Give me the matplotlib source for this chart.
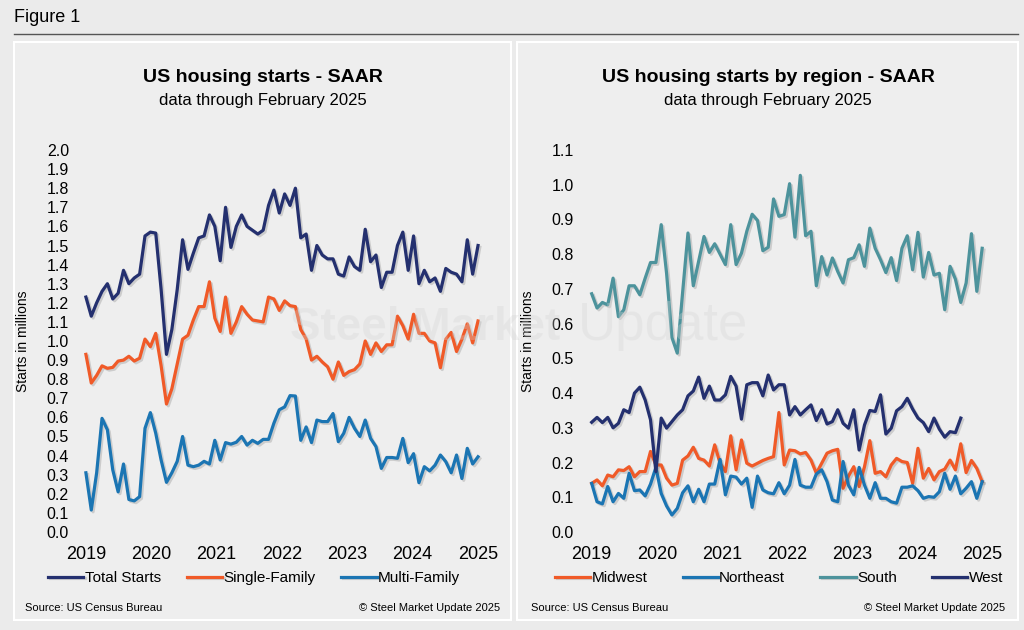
import numpy as np
import matplotlib
matplotlib.use('Agg')
import matplotlib.pyplot as plt
import matplotlib.patheffects as pe
from matplotlib.patches import Rectangle
from matplotlib.lines import Line2D

plt.rcParams['font.family'] = ['Liberation Sans', 'DejaVu Sans']

# monthly data, Jan 2019 - Feb 2025 (millions, SAAR)
years = ['2019', '2020', '2021', '2022', '2023', '2024', '2025']

total_starts = [1.23, 1.13, 1.20, 1.26, 1.30, 1.22, 1.25, 1.37, 1.30, 1.33, 1.35, 1.55,
                1.57, 1.565, 1.27, 0.93, 1.06, 1.27, 1.53, 1.375, 1.46, 1.54, 1.55, 1.66,
                1.60, 1.42, 1.70, 1.49, 1.60, 1.66, 1.60, 1.58, 1.56, 1.58, 1.71, 1.79,
                1.67, 1.77, 1.71, 1.80, 1.54, 1.56, 1.37, 1.50, 1.45, 1.43, 1.43, 1.35,
                1.34, 1.44, 1.39, 1.37, 1.585, 1.415, 1.45, 1.28, 1.36, 1.36, 1.50, 1.57,
                1.37, 1.55, 1.30, 1.37, 1.31, 1.33, 1.26, 1.38, 1.36, 1.35, 1.31, 1.53,
                1.35, 1.50]

single_family = [0.93, 0.78, 0.82, 0.87, 0.857, 0.862, 0.895, 0.90, 0.92, 0.895, 0.91, 1.01,
                 0.97, 1.04, 0.87, 0.67, 0.75, 0.88, 1.01, 1.03, 1.11, 1.18, 1.18, 1.31,
                 1.12, 1.05, 1.23, 1.04, 1.10, 1.18, 1.14, 1.11, 1.105, 1.10, 1.23, 1.22,
                 1.16, 1.21, 1.185, 1.18, 1.06, 1.01, 0.90, 0.92, 0.89, 0.865, 0.80, 0.89,
                 0.82, 0.84, 0.85, 0.88, 1.00, 0.93, 0.99, 0.945, 0.98, 0.98, 1.13, 1.08,
                 1.01, 1.14, 1.04, 1.04, 1.00, 0.99, 0.86, 1.01, 1.045, 0.945, 1.01, 1.09,
                 0.99, 1.105]

multi_family = [0.31, 0.115, 0.31, 0.595, 0.535, 0.325, 0.21, 0.356, 0.17, 0.163, 0.185, 0.543,
                0.625, 0.517, 0.377, 0.26, 0.31, 0.37, 0.50, 0.35, 0.342, 0.35, 0.37, 0.356,
                0.48, 0.377, 0.468, 0.46, 0.47, 0.50, 0.455, 0.48, 0.464, 0.485, 0.485, 0.57,
                0.64, 0.655, 0.714, 0.712, 0.48, 0.55, 0.468, 0.586, 0.578, 0.578, 0.62, 0.473,
                0.517, 0.60, 0.543, 0.50, 0.586, 0.49, 0.447, 0.333, 0.39, 0.39, 0.386, 0.49,
                0.363, 0.41, 0.258, 0.342, 0.32, 0.35, 0.403, 0.368, 0.31, 0.403, 0.28, 0.438,
                0.356, 0.394]

midwest = [0.14, 0.15, 0.133, 0.164, 0.159, 0.179, 0.177, 0.188, 0.159, 0.174, 0.174, 0.232,
           0.193, 0.193, 0.155, 0.135, 0.14, 0.207, 0.219, 0.244, 0.212, 0.207, 0.19, 0.251,
           0.198, 0.174, 0.277, 0.179, 0.265, 0.198, 0.19, 0.198, 0.206, 0.212, 0.217, 0.344,
           0.193, 0.236, 0.234, 0.225, 0.229, 0.207, 0.169, 0.198, 0.227, 0.234, 0.238, 0.126,
           0.161, 0.188, 0.131, 0.188, 0.263, 0.169, 0.174, 0.159, 0.193, 0.212, 0.203, 0.20,
           0.14, 0.241, 0.155, 0.183, 0.15, 0.174, 0.181, 0.207, 0.179, 0.254, 0.171, 0.206,
           0.183, 0.145]

northeast = [0.14, 0.087, 0.081, 0.131, 0.087, 0.111, 0.097, 0.169, 0.119, 0.121, 0.104, 0.138,
             0.186, 0.111, 0.075, 0.049, 0.068, 0.113, 0.133, 0.087, 0.123, 0.087, 0.138, 0.138,
             0.209, 0.107, 0.161, 0.158, 0.138, 0.155, 0.071, 0.161, 0.121, 0.113, 0.11, 0.142,
             0.11, 0.135, 0.209, 0.135, 0.129, 0.129, 0.167, 0.179, 0.145, 0.092, 0.087, 0.203,
             0.135, 0.107, 0.186, 0.135, 0.097, 0.142, 0.097, 0.097, 0.087, 0.083, 0.129, 0.129,
             0.133, 0.119, 0.097, 0.102, 0.10, 0.116, 0.169, 0.123, 0.161, 0.11, 0.126, 0.145,
             0.097, 0.145]

south = [0.686, 0.645, 0.661, 0.654, 0.731, 0.62, 0.64, 0.709, 0.709, 0.683, 0.731, 0.776,
         0.776, 0.885, 0.745, 0.56, 0.515, 0.69, 0.861, 0.709, 0.78, 0.851, 0.805, 0.83,
         0.80, 0.77, 0.885, 0.77, 0.803, 0.866, 0.915, 0.897, 0.81, 0.82, 0.959, 0.909,
         0.914, 1.003, 0.849, 1.027, 0.853, 0.866, 0.709, 0.793, 0.74, 0.789, 0.75, 0.717,
         0.784, 0.79, 0.827, 0.765, 0.875, 0.817, 0.784, 0.747, 0.79, 0.724, 0.817, 0.853,
         0.755, 0.863, 0.734, 0.805, 0.74, 0.745, 0.64, 0.765, 0.728, 0.661, 0.717, 0.859,
         0.693, 0.817]

# West ends at Oct 2024
west = [0.316, 0.33, 0.315, 0.33, 0.30, 0.313, 0.352, 0.344, 0.40, 0.417, 0.38, 0.323,
        0.174, 0.328, 0.299, 0.318, 0.337, 0.352, 0.392, 0.406, 0.446, 0.385, 0.42, 0.38,
        0.38, 0.395, 0.448, 0.42, 0.325, 0.424, 0.43, 0.43, 0.392, 0.452, 0.409, 0.424,
        0.424, 0.337, 0.361, 0.337, 0.352, 0.366, 0.321, 0.352, 0.311, 0.318, 0.352, 0.313,
        0.299, 0.352, 0.236, 0.308, 0.35, 0.347, 0.395, 0.282, 0.299, 0.349, 0.361, 0.385,
        0.354, 0.328, 0.315, 0.289, 0.328, 0.296, 0.273, 0.289, 0.286, 0.328]

navy = '#24306f'
orange = '#f05a28'
blue = '#1b75b3'
teal = '#4d939c'

W, H = 1024, 630
fig = plt.figure(figsize=(W / 100, H / 100), dpi=100)
fig.patch.set_facecolor('#ebebeb')


def fx(px):
    return px / W


def fy(py):
    return 1 - py / H


# header
fig.text(fx(14), fy(18), 'Figure 1', fontsize=13, va='center', ha='left')
fig.add_artist(Line2D([fx(14), fx(1018)], [fy(34), fy(34)], color='#555555', lw=1))

# panels
for x0, x1 in [(14, 511), (517, 1018)]:
    fig.add_artist(Rectangle((fx(x0), fy(620)), fx(x1 - x0), (620 - 42) / H,
                             facecolor='#eeeeee', edgecolor='white', lw=1.5, zorder=-5))

shadow = [pe.SimpleLineShadow(offset=(1.3, -1.3), alpha=0.22, shadow_color='#555555'),
          pe.Normal()]

x = np.arange(len(total_starts))
tick_pos = np.linspace(0, 73, 7)


def setup(ax, ymax, step, fmt):
    ax.set_facecolor('none')
    for s in ax.spines.values():
        s.set_visible(False)
    ax.set_ylim(0, ymax)
    ax.set_yticks(np.arange(0, ymax + 0.001, step))
    ax.set_yticklabels([fmt % v for v in np.arange(0, ymax + 0.001, step)])
    ax.set_xticks(tick_pos)
    ax.set_xticklabels(years)
    ax.tick_params(axis='y', length=0, labelsize=11.5, pad=8)
    ax.tick_params(axis='x', length=0, labelsize=13, pad=10)
    ax.set_ylabel('Starts in millions', fontsize=10, labelpad=10)


# left chart
ax1 = fig.add_axes([fx(80), fy(532), fx(492 - 80), (532 - 150) / H])
setup(ax1, 2.0, 0.1, '%.1f')
ax1.set_xlim(-1.1, 75.6)
l1, = ax1.plot(x, total_starts, color=navy, lw=2.3, label='Total Starts', path_effects=shadow, clip_on=False)
l2, = ax1.plot(x, single_family, color=orange, lw=2.3, label='Single-Family', path_effects=shadow, clip_on=False)
l3, = ax1.plot(x, multi_family, color=blue, lw=2.3, label='Multi-Family', path_effects=shadow, clip_on=False)
ax1.yaxis.set_label_coords(-(80 - 30) / 412, 0.5)

fig.text(fx(263), fy(77), 'US housing starts - SAAR', fontsize=14, fontweight='bold', ha='center', va='center')
fig.text(fx(263), fy(100), 'data through February 2025', fontsize=12, ha='center', va='center')
fig.legend(handles=[l1, l2, l3], loc='center', bbox_to_anchor=(fx(254), fy(578)), ncol=3,
           frameon=False, fontsize=11, handlelength=2.3, handletextpad=0.1, columnspacing=1.7)
fig.text(fx(25), fy(608), 'Source: US Census Bureau', fontsize=8, va='center')
fig.text(fx(500), fy(608), '\u00a9 Steel Market Update 2025', fontsize=8, va='center', ha='right')

# right chart
ax2 = fig.add_axes([fx(585), fy(532), fx(995 - 585), (532 - 150) / H])
setup(ax2, 1.1, 0.1, '%.1f')
ax2.set_xlim(-1.25, 75.4)
r1, = ax2.plot(x, midwest, color=orange, lw=2.3, label='Midwest', path_effects=shadow, clip_on=False)
r2, = ax2.plot(x, northeast, color=blue, lw=2.3, label='Northeast', path_effects=shadow, clip_on=False)
r3, = ax2.plot(x, south, color=teal, lw=2.3, label='South', path_effects=shadow, clip_on=False)
r4, = ax2.plot(np.arange(len(west)), west, color=navy, lw=2.3, label='West', path_effects=shadow, clip_on=False)
ax2.yaxis.set_label_coords(-(585 - 535) / 410, 0.5)

fig.text(fx(768), fy(77), 'US housing starts by region - SAAR', fontsize=14, fontweight='bold', ha='center', va='center')
fig.text(fx(768), fy(100), 'data through February 2025', fontsize=12, ha='center', va='center')
fig.legend(handles=[r1, r2, r3, r4], loc='center', bbox_to_anchor=(fx(779), fy(578)), ncol=4,
           frameon=False, fontsize=11, handlelength=2.3, handletextpad=0.1, columnspacing=2.3)
fig.text(fx(531), fy(608), 'Source: US Census Bureau', fontsize=8, va='center')
fig.text(fx(1005), fy(608), '\u00a9 Steel Market Update 2025', fontsize=8, va='center', ha='right')

# watermark, laid over the lines
fig.text(fx(290), fy(340), 'Steel Market', fontsize=33, fontweight='bold',
         color='#d5d5d5', alpha=0.32, zorder=10, va='baseline')
fig.text(fx(578), fy(340), 'Update', fontsize=38, color='#d5d5d5', alpha=0.32,
         zorder=10, va='baseline')

fig.savefig('out.png', dpi=100, facecolor=fig.get_facecolor())
